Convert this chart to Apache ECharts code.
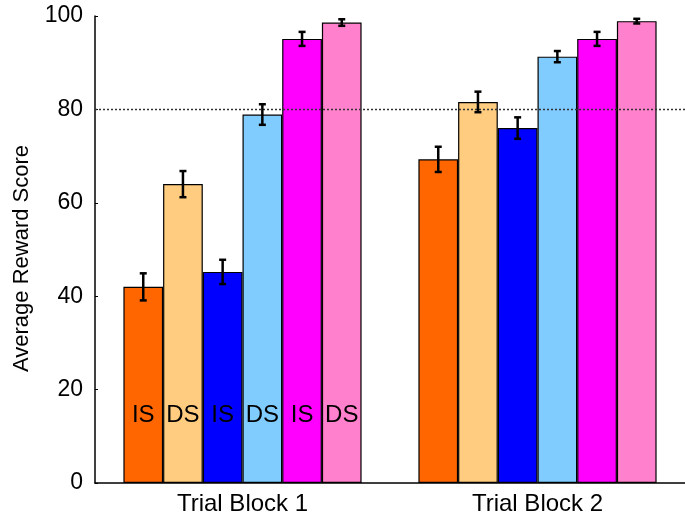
<!DOCTYPE html>
<html>
<head>
<meta charset="utf-8">
<script src="https://cdn.jsdelivr.net/npm/echarts@6/dist/echarts.min.js"></script>
<style>
  html, body { margin: 0; padding: 0; background: #fff; }
  #chart { width: 685px; height: 518px; }
</style>
</head>
<body>
<div id="chart"></div>
<script>
// categories on the x axis
var blocks = ['Trial Block 1', 'Trial Block 2'];
// bar labels shown inside the first block
var barLabels = ['IS', 'DS', 'IS', 'DS', 'IS', 'DS'];
// one colour per bar in a block
var barColors = ['#FF6600', '#FFCC80', '#0000FF', '#80CCFF', '#FF00FF', '#FF80CC'];
// mean score per bar, [block 1, block 2]
var means = [
  [42.0, 69.3],
  [64.0, 81.6],
  [45.2, 76.0],
  [78.9, 91.3],
  [95.1, 95.1],
  [98.6, 98.9]
];
// half-width of the error bars, [block 1, block 2]
var errs = [
  [2.9, 2.7],
  [2.8, 2.2],
  [2.6, 2.3],
  [2.2, 1.2],
  [1.5, 1.5],
  [0.7, 0.5]
];
var yTicks = [0, 20, 40, 60, 80, 100];
var refLine = 80;

var BAR_W = 39.7;
var FONT = '"Liberation Sans", Arial, sans-serif';

var chart = echarts.init(document.getElementById('chart'));

var series = [];
means.forEach(function (vals, s) {
  series.push({
    type: 'bar',
    barWidth: BAR_W,
    barGap: '0%',
    itemStyle: { color: barColors[s], borderColor: '#000', borderWidth: 1.2 },
    data: vals.map(function (v, c) {
      var item = { value: v };
      if (c === 0) {
        item.label = {
          show: true,
          position: 'insideBottom',
          distance: 56,
          formatter: barLabels[s],
          color: '#000',
          fontSize: 24,
          fontFamily: FONT
        };
      }
      return item;
    }),
    markLine: s === 0 ? {
      silent: true,
      symbol: 'none',
      label: { show: false },
      lineStyle: { type: [2, 2], color: '#333', width: 1.3 },
      data: [{ yAxis: refLine }]
    } : undefined,
    z: 2
  });
});

// error bars: [category, bar index, low, high]
var errData = [];
means.forEach(function (vals, s) {
  vals.forEach(function (v, c) {
    errData.push([c, s, v - errs[s][c], v + errs[s][c]]);
  });
});

series.push({
  type: 'custom',
  data: errData,
  encode: { x: 0, y: [2, 3] },
  z: 5,
  renderItem: function (params, api) {
    var c = api.value(0), s = api.value(1);
    var lo = api.coord([c, api.value(2)]);
    var hi = api.coord([c, api.value(3)]);
    var x = lo[0] + (s - 2.5) * BAR_W;
    var cap = 3.5;
    var st = { stroke: '#000', lineWidth: 2.5 };
    return {
      type: 'group',
      children: [
        { type: 'line', shape: { x1: x, y1: lo[1], x2: x, y2: hi[1] }, style: st },
        { type: 'line', shape: { x1: x - cap, y1: lo[1], x2: x + cap, y2: lo[1] }, style: st },
        { type: 'line', shape: { x1: x - cap, y1: hi[1], x2: x + cap, y2: hi[1] }, style: st }
      ]
    };
  }
});

chart.setOption({
  backgroundColor: '#fff',
  animation: false,
  grid: { left: 95, right: -3, top: 16, bottom: 35 },
  xAxis: {
    type: 'category',
    data: blocks,
    axisLine: { lineStyle: { color: '#000', width: 1.5 } },
    axisTick: { show: false },
    axisLabel: { color: '#000', fontSize: 24, fontFamily: FONT, margin: 9 }
  },
  yAxis: {
    type: 'value',
    min: yTicks[0],
    max: yTicks[yTicks.length - 1],
    interval: 20,
    name: 'Average Reward Score',
    nameLocation: 'middle',
    nameGap: 62,
    nameTextStyle: { color: '#000', fontSize: 22, fontFamily: FONT, padding: [0, 18, 0, 0] },
    axisLine: { show: true, lineStyle: { color: '#000', width: 1.5 } },
    axisTick: { show: true, inside: true, length: 3, lineStyle: { color: '#000' } },
    splitLine: { show: false },
    axisLabel: { color: '#000', fontSize: 23, fontFamily: FONT, margin: 12 }
  },
  series: series
});
</script>
</body>
</html>
